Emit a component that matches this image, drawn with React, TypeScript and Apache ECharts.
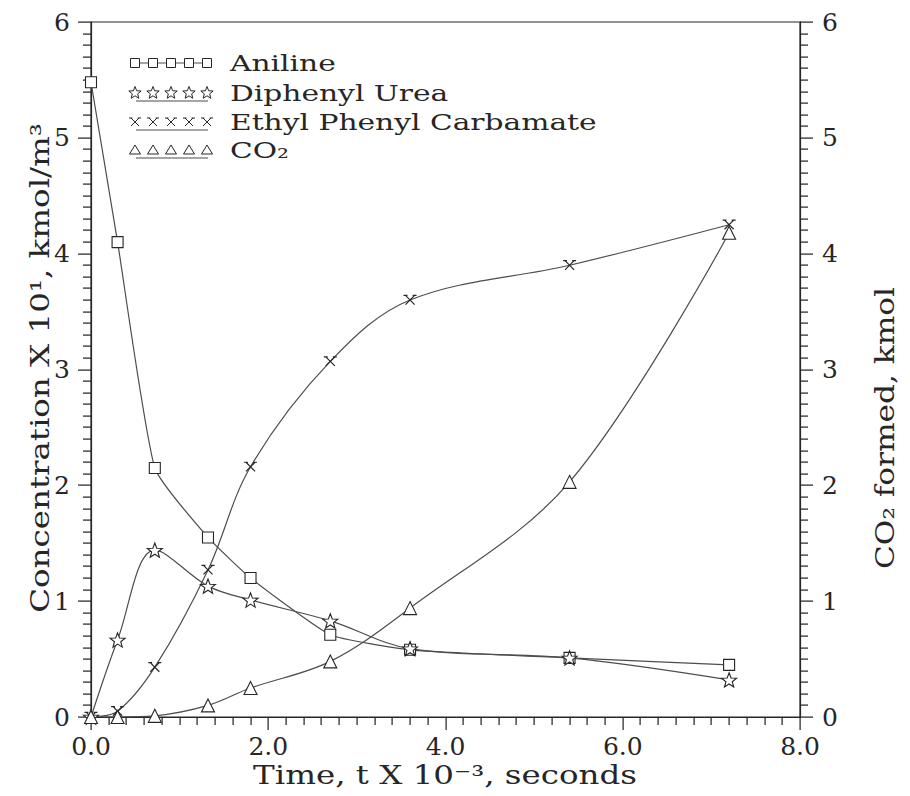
import React, { useEffect, useRef } from "react";
import * as echarts from "echarts";

// ---- data ----
const timeK = [0, 0.3, 0.72, 1.32, 1.8, 2.7, 3.6, 5.4, 7.2];
const aniline = [5.48, 4.1, 2.15, 1.55, 1.2, 0.71, 0.58, 0.51, 0.45];
const diphenylUrea = [0, 0.665, 1.44, 1.13, 1.01, 0.83, 0.59, 0.51, 0.32];
const ethylPhenylCarbamate = [0, 0.05, 0.43, 1.27, 2.16, 3.07, 3.6, 3.9, 4.25];
const co2Formed = [0, 0, 0.01, 0.1, 0.25, 0.48, 0.94, 2.03, 4.18];
const seriesNames = ["Aniline", "Diphenyl Urea", "Ethyl Phenyl Carbamate", "CO₂"];
const xTickLabels = ["0.0", "2.0", "4.0", "6.0", "8.0"];
const yTickLabels = ["0", "1", "2", "3", "4", "5", "6"];
const xTitle = "Time, t X 10⁻³, seconds";
const yLeftTitle = "Concentration X 10¹, kmol/m³";
const yRightTitle = "CO₂ formed, kmol";

// axis ranges and tick steps
const X_MAX = 8;
const X_MAJOR = 2;
const X_MINOR_PER_MAJOR = 10;
const Y_MAX = 6;
const Y_MAJOR = 1;
const Y_MINOR_PER_MAJOR = 10;

// layout
const W = 910;
const H = 796;
const GRID = { left: 91, right: 110, top: 22, bottom: 79 };

const FONT = "'DejaVu Serif', 'Liberation Serif', serif";
const INK = "#262626";
const LINE = "#4d4d4d";

const STAR_PATH =
  "path://M10 0 L12.47 6.6 L19.51 6.91 L14 11.3 L15.88 18.09 L10 14.2 L4.12 18.09 L6.01 11.3 L0.49 6.91 L7.53 6.6 Z";
const X_PATH = "path://M3 3 L17 17 M17 3 L3 17 M0 3 L6 3 M14 3 L20 3";

function starPoints(cx: number, cy: number, R: number, r: number) {
  const pts: number[][] = [];
  for (let k = 0; k < 10; k++) {
    const a = (-90 + k * 36) * (Math.PI / 180);
    const rad = k % 2 === 0 ? R : r;
    pts.push([cx + rad * Math.cos(a), cy + rad * Math.sin(a)]);
  }
  return pts;
}

function legendGraphics() {
  const rowsY = [63, 93, 122, 150];
  const xs = [135, 153, 171, 189, 207];
  const els: any[] = [];
  const st = { fill: "#fff", stroke: INK, lineWidth: 1 };
  rowsY.forEach((cy, row) => {
    if (row === 0) {
      els.push({ type: "line", shape: { x1: 130, y1: cy, x2: 212, y2: cy }, style: { stroke: LINE, lineWidth: 1.2 } });
    } else {
      els.push({ type: "line", shape: { x1: 136, y1: cy + 8, x2: 208, y2: cy + 8 }, style: { stroke: LINE, lineWidth: 1.2 } });
    }
    xs.forEach((cx) => {
      if (row === 0) {
        els.push({ type: "rect", shape: { x: cx - 4.5, y: cy - 4.5, width: 9, height: 9 }, style: st });
      } else if (row === 1) {
        els.push({ type: "polygon", shape: { points: starPoints(cx, cy, 6.5, 2.8) }, style: st });
      } else if (row === 2) {
        const s = { stroke: INK, lineWidth: 1 };
        els.push({ type: "line", shape: { x1: cx - 4, y1: cy - 4, x2: cx + 4, y2: cy + 4 }, style: s });
        els.push({ type: "line", shape: { x1: cx + 4, y1: cy - 4, x2: cx - 4, y2: cy + 4 }, style: s });
        els.push({ type: "line", shape: { x1: cx - 6, y1: cy - 4, x2: cx - 2.5, y2: cy - 4 }, style: s });
        els.push({ type: "line", shape: { x1: cx + 2.5, y1: cy - 4, x2: cx + 6, y2: cy - 4 }, style: s });
      } else {
        els.push({ type: "polygon", shape: { points: [[cx, cy - 5], [cx + 5.5, cy + 4], [cx - 5.5, cy + 4]] }, style: st });
      }
    });
    els.push({
      type: "text",
      x: 230,
      y: cy,
      scaleX: 1.35,
      style: {
        text: seriesNames[row],
        fontFamily: FONT,
        fontSize: 22,
        fill: INK,
        align: "left",
        verticalAlign: "middle",
      },
    });
  });
  return els;
}

function titleGraphics() {
  const base = { fontFamily: FONT, fontSize: 26, fill: INK, align: "center", verticalAlign: "middle" };
  return [
    { type: "text", x: 445, y: 775, scaleX: 1.25, style: { ...base, text: xTitle } },
    { type: "text", x: 40, y: 368, rotation: Math.PI / 2, scaleX: 1.25, style: { ...base, text: yLeftTitle } },
    { type: "text", x: 885, y: 428, rotation: Math.PI / 2, scaleX: 1.2, style: { ...base, text: yRightTitle } },
  ];
}

// major and minor tick marks along the frame, drawn as thin filled bars
function tickGraphics() {
  const els: any[] = [];
  const st = { fill: "#1f1f1f" };
  const x0 = GRID.left;
  const x1 = W - GRID.right;
  const yB = H - GRID.bottom;
  const yT = GRID.top;
  const px = (v: number) => Math.round(x0 + (v / X_MAX) * (x1 - x0));
  const py = (v: number) => Math.round(yB - (v / Y_MAX) * (yB - yT));
  const nx = (X_MAX / X_MAJOR) * X_MINOR_PER_MAJOR;
  for (let k = 0; k <= nx; k++) {
    const x = px((k * X_MAJOR) / X_MINOR_PER_MAJOR);
    const len = k % X_MINOR_PER_MAJOR === 0 ? 13 : 8;
    els.push({ type: "rect", shape: { x: x - 0.5, y: yB, width: 1.2, height: len }, style: st });
  }
  const ny = (Y_MAX / Y_MAJOR) * Y_MINOR_PER_MAJOR;
  for (let k = 0; k <= ny; k++) {
    const y = py((k * Y_MAJOR) / Y_MINOR_PER_MAJOR);
    const len = k % Y_MINOR_PER_MAJOR === 0 ? 13 : 8;
    els.push({ type: "rect", shape: { x: x0 - len, y: y - 0.5, width: len, height: 1.2 }, style: st });
    els.push({ type: "rect", shape: { x: x1, y: y - 0.5, width: len, height: 1.2 }, style: st });
  }
  return els;
}

function pairs(ys: number[]) {
  return timeK.map((t, i) => [t, ys[i]]);
}

export default function App() {
  const ref = useRef<HTMLDivElement>(null);
  useEffect(() => {
    if (!ref.current) return;
    const chart = echarts.init(ref.current, undefined, { renderer: "svg" });
    const lineCommon = {
      axisLine: { show: true, lineStyle: { color: INK, width: 1.2 } },
      splitLine: { show: false },
      axisTick: { show: false },
    };
    const labelStyle = { fontFamily: FONT, fontSize: 25, color: INK };
    const markerStyle = { color: "#fff", borderColor: INK, borderWidth: 1.1 };
    const lineStyle = { color: LINE, width: 1.2 };
    chart.setOption({
      animation: false,
      backgroundColor: "#fff",
      grid: { ...GRID, show: true, borderColor: INK, borderWidth: 1.2 },
      xAxis: {
        type: "value",
        min: 0,
        max: X_MAX,
        interval: X_MAJOR,
        position: "bottom",
        ...lineCommon,
        axisLabel: {
          ...labelStyle,
          margin: 17,
          formatter: (v: number) => xTickLabels[Math.round(v / X_MAJOR)] ?? "",
        },
      },
      yAxis: [
        {
          type: "value",
          min: 0,
          max: Y_MAX,
          interval: Y_MAJOR,
          position: "left",
          ...lineCommon,
          axisLabel: {
            ...labelStyle,
            margin: 21,
            formatter: (v: number) => yTickLabels[Math.round(v)] ?? "",
          },
        },
        {
          type: "value",
          min: 0,
          max: Y_MAX,
          interval: Y_MAJOR,
          position: "right",
          ...lineCommon,
          axisLabel: {
            ...labelStyle,
            margin: 22,
            formatter: (v: number) => yTickLabels[Math.round(v)] ?? "",
          },
        },
      ],
      series: [
        {
          type: "line",
          name: seriesNames[0],
          data: pairs(aniline),
          smooth: 0.15,
          symbol: "rect",
          symbolSize: 11,
          lineStyle,
          itemStyle: markerStyle,
        },
        {
          type: "line",
          name: seriesNames[1],
          data: pairs(diphenylUrea),
          smooth: 0.35,
          symbol: STAR_PATH,
          symbolSize: 15,
          symbolKeepAspect: true,
          lineStyle,
          itemStyle: markerStyle,
        },
        {
          type: "line",
          name: seriesNames[2],
          data: pairs(ethylPhenylCarbamate),
          smooth: 0.35,
          symbol: X_PATH,
          symbolSize: 13,
          symbolKeepAspect: true,
          lineStyle,
          itemStyle: { color: "#fff", borderColor: INK, borderWidth: 1.2 },
        },
        {
          type: "line",
          name: seriesNames[3],
          yAxisIndex: 1,
          data: pairs(co2Formed),
          smooth: 0.35,
          symbol: "triangle",
          symbolSize: 13,
          lineStyle,
          itemStyle: markerStyle,
        },
      ],
      graphic: [...tickGraphics(), ...legendGraphics(), ...titleGraphics()],
    });
    return () => chart.dispose();
  }, []);
  return (
    <div
      ref={ref}
      style={{ position: "absolute", left: 0, top: 0, width: W, height: H, background: "#fff" }}
    />
  );
}
